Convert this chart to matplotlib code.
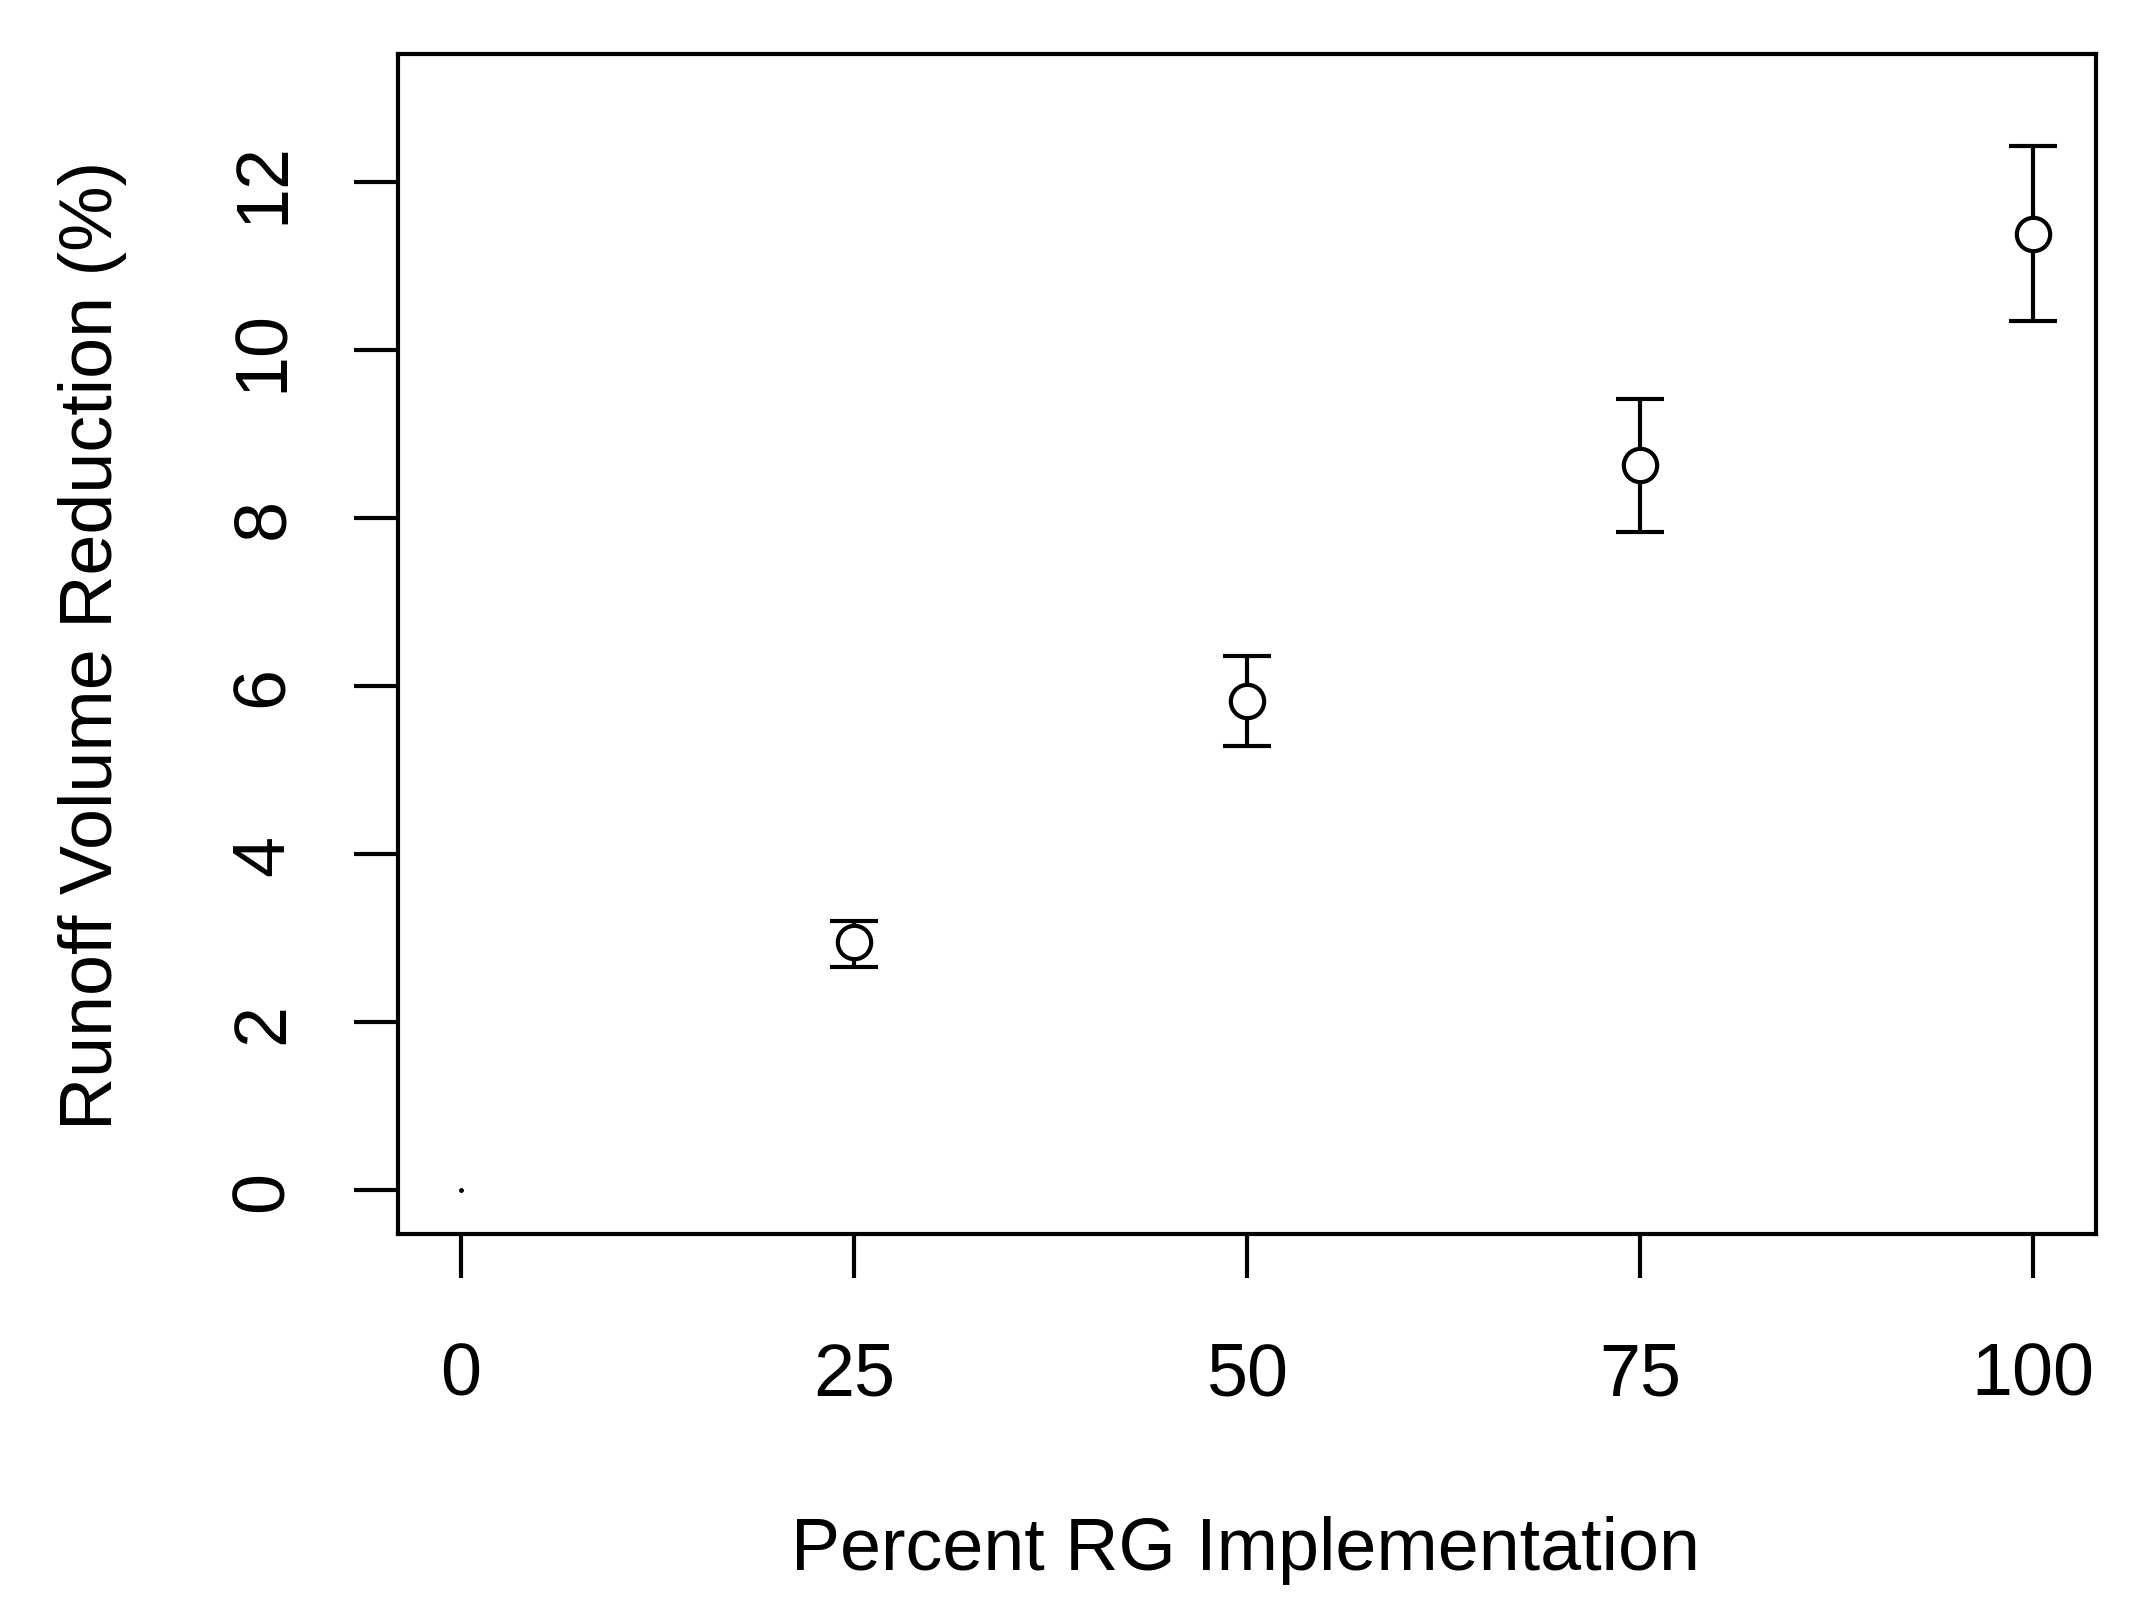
import numpy as np
import matplotlib
matplotlib.use("Agg")
import matplotlib.pyplot as plt

plt.rcParams['font.family'] = ['Liberation Sans', 'DejaVu Sans']

# percent RG implementation and runoff volume reduction (%)
pct = [0, 25, 50, 75, 100]
reduction = [0.0, 2.95, 5.82, 8.63, 11.38]
lower = [0.0, 2.66, 5.29, 7.83, 10.34]
upper = [0.0, 3.21, 6.36, 9.41, 12.42]
xticks = [0, 25, 50, 75, 100]
yticks = [0, 2, 4, 6, 8, 10, 12]

x = np.array(pct)
y = np.array(reduction)
err = np.array([y - np.array(lower), np.array(upper) - y])

fig = plt.figure(figsize=(21.47, 16.06), dpi=100)
ax = fig.add_axes([0.1854, 0.2310, 0.7909, 0.7348])

# zero point drawn as a tiny dot, the rest with error bars
ax.plot(x[:1], y[:1], 'o', color='black', markersize=2.5)
ax.errorbar(x[1:], y[1:], yerr=err[:, 1:], fmt='o', mfc='white', mec='black',
            ecolor='black', markersize=24, markeredgewidth=3,
            elinewidth=3, capsize=17, capthick=3, zorder=3)

ax.set_xlim(-4, 104)
ax.set_ylim(-0.52, 13.52)
ax.set_xticks(xticks)
ax.set_yticks(yticks)
ax.set_xticklabels([str(v) for v in xticks])
ax.set_yticklabels([str(v) for v in yticks], rotation=90, va='center')
ax.tick_params(axis='both', length=32, width=3, labelsize=53)
ax.tick_params(axis='x', pad=45)
ax.tick_params(axis='y', pad=40)
for s in ax.spines.values():
    s.set_linewidth(3)

fig.text(0.5803, 1 - 1551 / 1606, 'Percent RG Implementation', fontsize=53,
         ha='center', va='center')
fig.text(93 / 2147, 1 - 645 / 1606, 'Runoff Volume Reduction (%)', fontsize=53,
         ha='center', va='center', rotation=90)

fig.savefig('out.png', dpi=100)
